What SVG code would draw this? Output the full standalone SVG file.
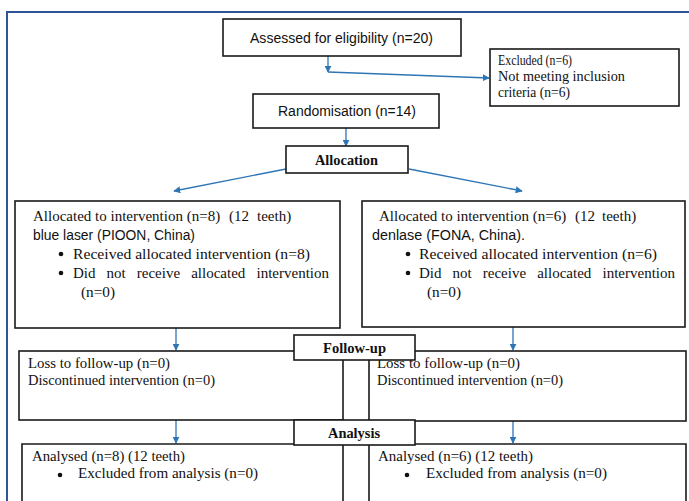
<svg xmlns="http://www.w3.org/2000/svg" width="689" height="501" viewBox="0 0 689 501">
<defs>
<marker id="ah" viewBox="0 0 10 10" refX="9" refY="5" markerWidth="7" markerHeight="7" markerUnits="userSpaceOnUse" orient="auto">
<path d="M0,0 L10,5 L0,10 z" fill="#2E75B6"/>
</marker>
<style>
.box{fill:#fff;stroke:#1a1a1a;stroke-width:1.6}
.sans{font-family:"Liberation Sans",Arial,sans-serif;font-size:14px;fill:#111}
.serif{font-family:"Liberation Serif","Times New Roman",serif;font-size:15px;fill:#111}
.bold{font-family:"Liberation Serif","Times New Roman",serif;font-size:15px;font-weight:bold;fill:#111}
.conn{fill:none;stroke:#2E75B6;stroke-width:1.3;marker-end:url(#ah)}
</style>
</defs>
<rect width="689" height="501" fill="#fff"/>
<path d="M7,501 V12 H689" fill="none" stroke="#2F5597" stroke-width="2"/>

<g id="connectors">
<path class="conn" d="M328,56 V72"/>
<path class="conn" d="M328,72 L489,78"/>
<path class="conn" d="M346,128 V146"/>
<path class="conn" d="M286,169 L174,191"/>
<path class="conn" d="M409,169 L522,191"/>
<path class="conn" d="M176,328 V350"/>
<path class="conn" d="M513,327 V350"/>
<path class="conn" d="M176,420 V443"/>
<path class="conn" d="M513,421 V443"/>
</g>

<g id="assessed">
<rect class="box" x="223" y="19" width="238" height="37"/>
<text class="sans" x="250" y="43" textLength="183" lengthAdjust="spacingAndGlyphs">Assessed for eligibility (n=20)</text>
</g>

<g id="excluded">
<rect class="box" x="490" y="49" width="189" height="57"/>
<text class="serif" x="498" y="65" textLength="74" lengthAdjust="spacingAndGlyphs">Excluded (n=6)</text>
<text class="serif" x="498" y="81" textLength="127" lengthAdjust="spacingAndGlyphs">Not meeting inclusion</text>
<text class="serif" x="498" y="97" textLength="72" lengthAdjust="spacingAndGlyphs">criteria (n=6)</text>
</g>

<g id="randomisation">
<rect class="box" x="253" y="94" width="186" height="34"/>
<text class="sans" x="278" y="116" textLength="138" lengthAdjust="spacingAndGlyphs">Randomisation (n=14)</text>
</g>

<g id="allocation">
<rect class="box" x="286" y="146" width="122" height="27"/>
<text class="bold" x="315" y="165" textLength="63" lengthAdjust="spacingAndGlyphs">Allocation</text>
</g>

<g id="alloc-left">
<rect class="box" x="15" y="201" width="325" height="127"/>
<text class="serif" y="221"><tspan x="33">Allocated to intervention (n=8)</tspan><tspan x="229">(12</tspan><tspan x="257">teeth)</tspan></text>
<text class="sans" x="33" y="240" textLength="162" lengthAdjust="spacingAndGlyphs">blue laser (PIOON, China)</text>
<circle cx="61" cy="254" r="2.3" fill="#111"/>
<text class="serif" x="73" y="259" textLength="237" lengthAdjust="spacingAndGlyphs">Received allocated intervention (n=8)</text>
<circle cx="61" cy="273" r="2.3" fill="#111"/>
<text class="serif" y="278"><tspan x="73">Did</tspan><tspan x="106.6">not</tspan><tspan x="136.8">receive</tspan><tspan x="191.2">allocated</tspan><tspan x="256.5">intervention</tspan></text>
<text class="serif" x="81" y="297" textLength="34" lengthAdjust="spacingAndGlyphs">(n=0)</text>
</g>

<g id="alloc-right">
<rect class="box" x="362" y="201" width="323" height="126"/>
<text class="serif" y="221"><tspan x="379">Allocated to intervention (n=6)</tspan><tspan x="575">(12</tspan><tspan x="602">teeth)</tspan></text>
<text class="sans" x="372" y="240" textLength="153" lengthAdjust="spacingAndGlyphs">denlase (FONA, China).</text>
<circle cx="408" cy="254" r="2.3" fill="#111"/>
<text class="serif" x="419" y="259" textLength="238" lengthAdjust="spacingAndGlyphs">Received allocated intervention (n=6)</text>
<circle cx="408" cy="273" r="2.3" fill="#111"/>
<text class="serif" y="278"><tspan x="419">Did</tspan><tspan x="452.6">not</tspan><tspan x="482.8">receive</tspan><tspan x="537.2">allocated</tspan><tspan x="602.5">intervention</tspan></text>
<text class="serif" x="427" y="297" textLength="34" lengthAdjust="spacingAndGlyphs">(n=0)</text>
</g>

<g id="followup-left">
<rect class="box" x="19" y="351" width="324" height="69"/>
<text class="serif" x="28" y="368" textLength="142" lengthAdjust="spacingAndGlyphs">Loss to follow-up (n=0)</text>
<text class="serif" x="28" y="385" textLength="187" lengthAdjust="spacingAndGlyphs">Discontinued intervention (n=0)</text>
</g>

<g id="followup-right">
<rect class="box" x="369" y="351" width="317" height="70"/>
<text class="serif" x="377" y="368" textLength="143" lengthAdjust="spacingAndGlyphs">Loss to follow-up (n=0)</text>
<text class="serif" x="377" y="385" textLength="186" lengthAdjust="spacingAndGlyphs">Discontinued intervention (n=0)</text>
</g>

<g id="followup">
<rect class="box" x="294" y="335" width="121" height="25"/>
<text class="bold" x="323" y="353" textLength="63" lengthAdjust="spacingAndGlyphs">Follow-up</text>
</g>

<g id="analysis-left">
<path class="box" d="M22,502 V444 H343 V502"/>
<text class="serif" x="32" y="461" textLength="153" lengthAdjust="spacingAndGlyphs">Analysed (n=8) (12 teeth)</text>
<circle cx="60" cy="475" r="2.3" fill="#111"/>
<text class="serif" x="78" y="478" textLength="180" lengthAdjust="spacingAndGlyphs">Excluded from analysis (n=0)</text>
</g>

<g id="analysis-right">
<path class="box" d="M369,502 V444 H686 V502"/>
<text class="serif" x="378" y="461" textLength="155" lengthAdjust="spacingAndGlyphs">Analysed (n=6) (12 teeth)</text>
<circle cx="407" cy="475" r="2.3" fill="#111"/>
<text class="serif" x="426" y="478" textLength="181" lengthAdjust="spacingAndGlyphs">Excluded from analysis (n=0)</text>
</g>

<g id="analysis">
<rect class="box" x="294" y="420" width="121" height="25"/>
<text class="bold" x="328" y="438" textLength="52" lengthAdjust="spacingAndGlyphs">Analysis</text>
</g>
</svg>
